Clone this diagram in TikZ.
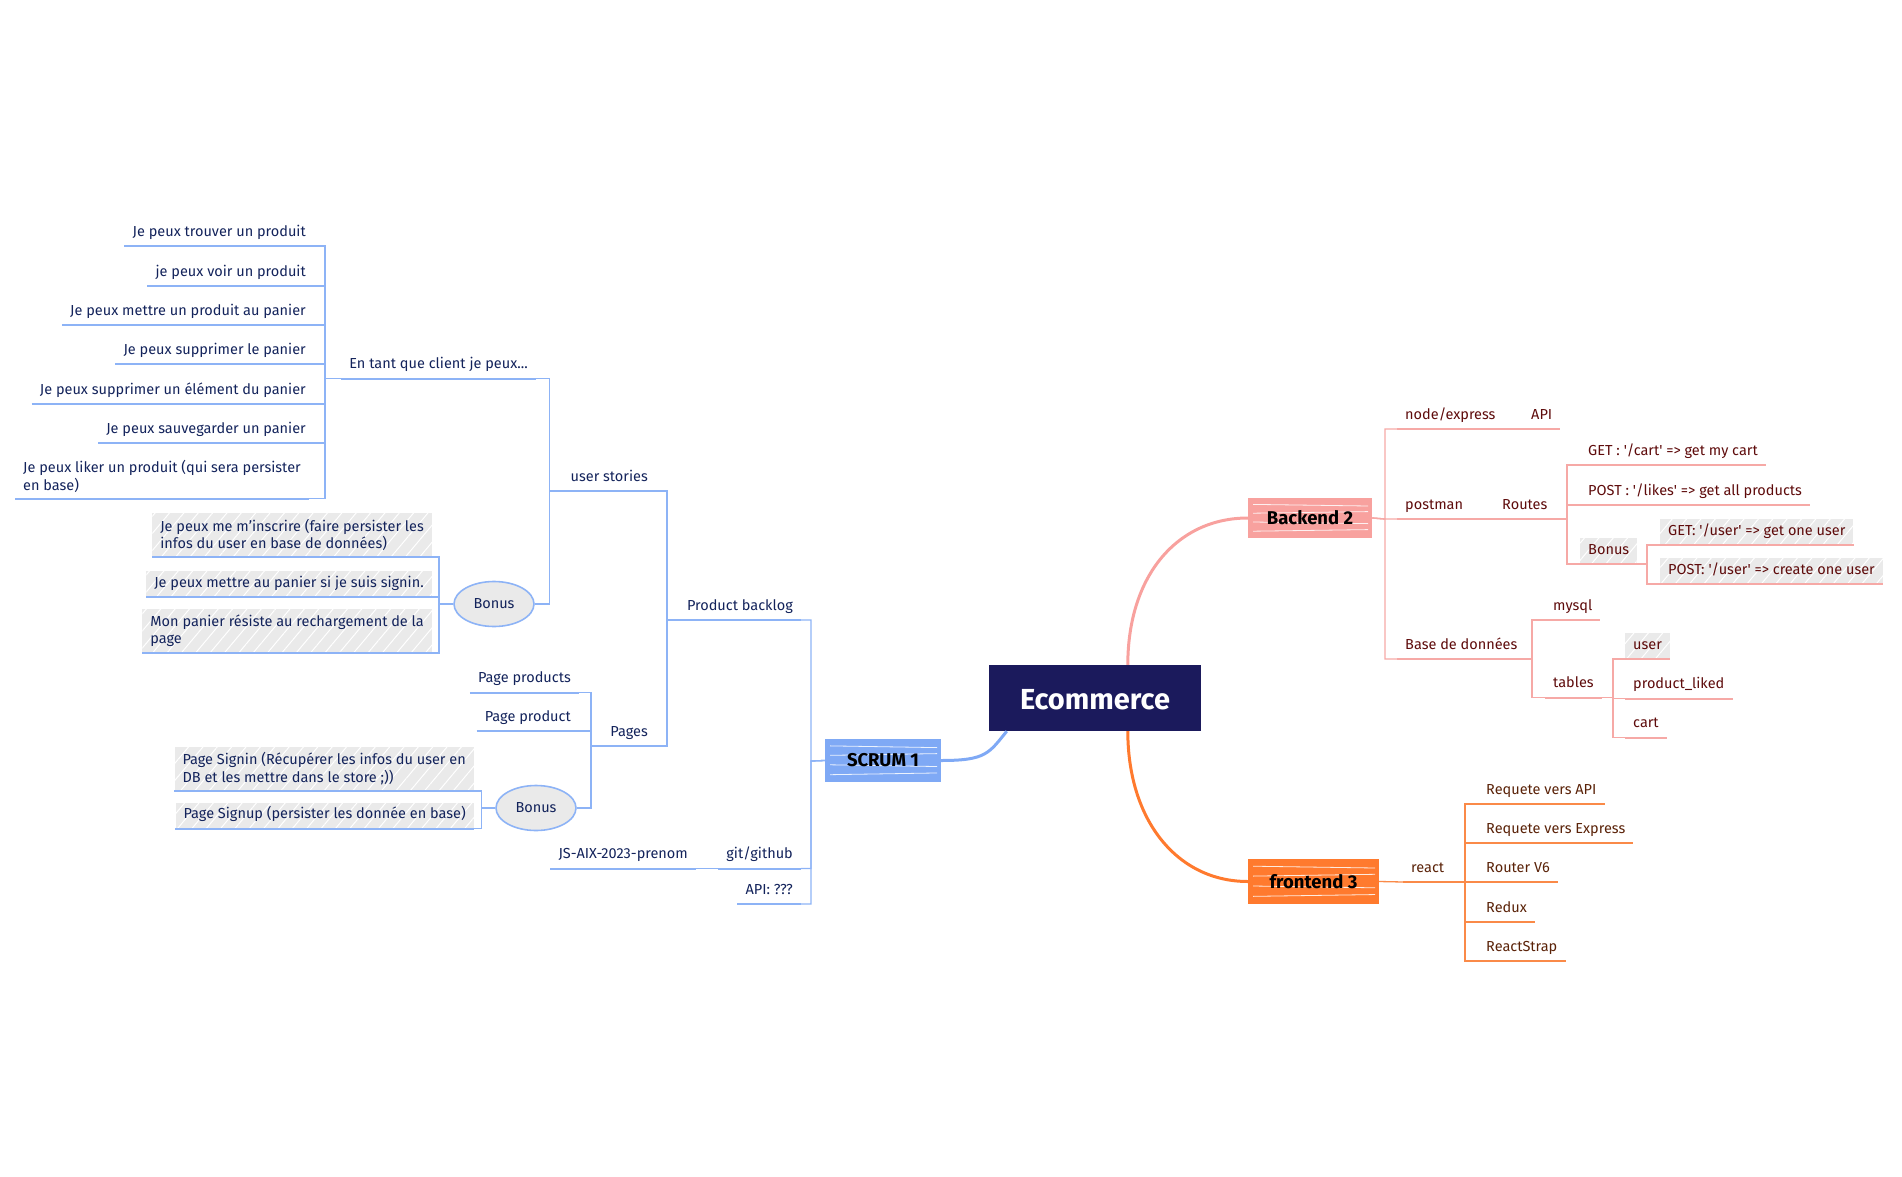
\documentclass[tikz,border=0pt]{standalone}
\usepackage{fontspec}
\setmainfont{Fira Sans}
\usetikzlibrary{calc,shapes.geometric,patterns.meta}

\definecolor{navy}{HTML}{1B1A5C}
\definecolor{bline}{HTML}{8DB3F6}
\definecolor{btext}{HTML}{13235B}
\definecolor{pline}{HTML}{F6A9A6}
\definecolor{ptext}{HTML}{5E0B0B}
\definecolor{oline}{HTML}{FA8A48}
\definecolor{otext}{HTML}{5A2208}
\definecolor{scrumc}{HTML}{7FA9F5}
\definecolor{backc}{HTML}{F8A19E}
\definecolor{frontc}{HTML}{FF7A2E}
\definecolor{hatch}{HTML}{EAEAEA}

\tikzset{
  topic/.style={inner xsep=8pt, inner ysep=6pt, text height=10pt, text depth=3.5pt,
    font=\fontsize{14.5}{17.5}\selectfont},
  multi/.style={text height={}, text depth={}, align=left},
  tb/.style={topic, text=btext},
  tp/.style={topic, text=ptext},
  to/.style={topic, text=otext},
  graybox/.style={fill=hatch, postaction={pattern={Lines[angle=50,distance=11pt,line width=1pt]}, pattern color=white}},
  bonusell/.style={ellipse, draw=bline, line width=1.6pt, fill=hatch, minimum width=80pt,
    minimum height=45pt, inner sep=0pt, text=btext, font=\fontsize{14.5}{17.5}\selectfont},
  bcon/.style={draw=bline, line width=1.3pt},
  pcon/.style={draw=pline, line width=1.3pt},
  ocon/.style={draw=oline, line width=1.3pt},
  bul/.style={draw=bline, line width=2pt},
  pul/.style={draw=pline, line width=2pt},
  oul/.style={draw=oline, line width=2pt},
  mainnode/.style={rectangle, inner sep=0pt, text=black, font=\bfseries\fontsize{18.5}{20}\selectfont},
  streaks/.style={path picture={
    \foreach \f/\g in {0.16/0.2, 0.38/0.34, 0.6/0.64, 0.83/0.79}{
      \draw[white, line width=0.8pt, opacity=0.85]
        ($(path picture bounding box.north west)!\f!(path picture bounding box.south west)+(5,0)$) --
        ($(path picture bounding box.north east)!\g!(path picture bounding box.south east)+(-4,0)$);
    }}},
  maincurve/.style={line width=3pt}
}

\begin{document}
\begin{tikzpicture}[x={(1pt,0)}, y={(0,-1pt)}]
\useasboundingbox (0,0) rectangle (1902,1177);

% ---- central topic and main branches
\node[mainnode, fill=navy, minimum width=212pt, minimum height=66pt, text=white,
  text height=22pt, text depth=0pt,
  font=\bfseries\fontsize{29}{31}\selectfont] (ecom) at (1095,698) {Ecommerce};
\node[mainnode, streaks, fill=scrumc, minimum width=116pt, minimum height=43pt] (scrum) at (883,760.5) {SCRUM 1};
\node[mainnode, streaks, fill=backc, minimum width=124pt, minimum height=40pt] (back) at (1310,518) {Backend 2};
\node[mainnode, streaks, fill=frontc, minimum width=131pt, minimum height=45pt] (front) at (1313.5,881.5) {frontend 3};

\draw[maincurve, scrumc] (scrum.east) .. controls +(45,0) and +(-18,22) .. ($(ecom.south west)+(18,0)$);
\draw[maincurve, backc] ($(ecom.north west)+(139,0)$) .. controls +(0,-90) and +(-70,0) .. (back.west);
\draw[maincurve, frontc] ($(ecom.south west)+(139,0)$) .. controls +(0,90) and +(-70,0) .. (front.west);

% ---- SCRUM 1 (blue, growing left)
\node[tb, anchor=south east] (pb) at (801,620) {Product backlog};
\node[tb, anchor=south east] (git) at (801,868.5) {git/github};
\node[tb, anchor=south east] (apiq) at (801,904) {API: ???};
\node[tb, anchor=south east] (js) at (696,868.5) {JS-AIX-2023-prenom};
\node[tb, anchor=south east] (us) at (656,491) {user stories};
\node[tb, anchor=south east] (pages) at (656,746) {Pages};
\node[tb, anchor=south east] (ent) at (536,378.5) {En tant que client je peux...};
\node[bonusell] (bu) at (494,604) {Bonus};
\node[tb, anchor=south east] (u1) at (314,246) {Je peux trouver un produit};
\node[tb, anchor=south east] (u2) at (314,286) {je peux voir un produit};
\node[tb, anchor=south east] (u3) at (314,325) {Je peux mettre un produit au panier};
\node[tb, anchor=south east] (u4) at (314,364) {Je peux supprimer le panier};
\node[tb, anchor=south east] (u5) at (314,404) {Je peux supprimer un élément du panier};
\node[tb, anchor=south east] (u6) at (314,443) {Je peux sauvegarder un panier};
\node[tb, multi, anchor=south west] (u7) at (15,498.5) {Je peux liker un produit (qui sera persister\\en base)};
\node[tb, multi, graybox, anchor=south east] (bu1) at (432,557) {Je peux me m'inscrire (faire persister les\\infos du user en base de données)};
\node[tb, graybox, anchor=south east] (bu2) at (432,597) {Je peux mettre au panier si je suis signin.};
\node[tb, multi, graybox, anchor=south east] (bu3) at (432,653) {Mon panier résiste au rechargement de la\\page};
\node[tb, anchor=south east] (pg1) at (579,692.5) {Page products};
\node[tb, anchor=south east] (pg2) at (579,731) {Page product};
\node[bonusell] (bp) at (536,808) {Bonus};
\node[tb, multi, graybox, anchor=south east] (bp1) at (474,791) {Page Signin (Récupérer les infos du user en\\DB et les mettre dans le store ;))};
\node[tb, graybox, anchor=south east] (bp2) at (474,828.5) {Page Signup (persister les donnée en base)};

\coordinate (kS) at (811,761);
\coordinate (kP) at (667,620);
\coordinate (kU) at (549.5,491);
\coordinate (kE) at (325,378.5);
\coordinate (kBU) at (439,604);
\coordinate (kPg) at (591,746);
\coordinate (kBP) at (481.5,808);

\foreach \n in {pb,git,apiq,js,us,pages,ent,u1,u2,u3,u4,u5,u6,u7,bu1,bu2,bu3,pg1,pg2,bp1,bp2}
  \draw[bul] (\n.south west) -- (\n.south east);

\foreach \n in {pb,git,apiq} \draw[bcon] (scrum.west) -- (kS) |- (\n.south east);
\draw[bcon] (git.south west) -- (js.south east);
\foreach \n in {us,pages} \draw[bcon] (pb.south west) -- (kP) |- (\n.south east);
\draw[bcon] (us.south west) -- (kU) |- (ent.south east);
\draw[bcon] (us.south west) -- (kU) |- (bu.east);
\foreach \n in {u1,u2,u3,u4,u5,u6,u7} \draw[bcon] (ent.south west) -- (kE) |- (\n.south east);
\foreach \n in {bu1,bu2,bu3} \draw[bcon] (bu.west) -- (kBU) |- (\n.south east);
\foreach \n in {pg1,pg2} \draw[bcon] (pages.south west) -- (kPg) |- (\n.south east);
\draw[bcon] (pages.south west) -- (kPg) |- (bp.east);
\foreach \n in {bp1,bp2} \draw[bcon] (bp.west) -- (kBP) |- (\n.south east);

% ---- Backend 2 (pink, growing right)
\node[tp, anchor=south west] (nx) at (1397,429) {node/express};
\node[tp, anchor=south west] (api) at (1523,429) {API};
\node[tp, anchor=south west] (pm) at (1397,519) {postman};
\node[tp, anchor=south west] (rt) at (1494,519) {Routes};
\node[tp, anchor=south west] (gc) at (1580,465) {GET : \textquotesingle/cart\textquotesingle{} => get my cart};
\node[tp, anchor=south west] (pl) at (1580,505) {POST : \textquotesingle/likes\textquotesingle{} => get all products};
\node[tp, graybox, anchor=south west] (bb) at (1580,564) {Bonus};
\node[tp, graybox, anchor=south west] (gu) at (1660,545) {GET: \textquotesingle/user\textquotesingle{} => get one user};
\node[tp, graybox, anchor=south west] (pu) at (1660,584) {POST: \textquotesingle/user\textquotesingle{} => create one user};
\node[tp, anchor=south west] (bdd) at (1397,659) {Base de données};
\node[tp, anchor=south west] (my) at (1545,620) {mysql};
\node[tp, anchor=south west] (tbl) at (1545,697.5) {tables};
\node[tp, graybox, anchor=south west] (tu) at (1625,659) {user};
\node[tp, anchor=south west] (tpl) at (1625,698.5) {product\_liked};
\node[tp, anchor=south west] (tc) at (1625,737.5) {cart};

\coordinate (kB) at (1385,519);
\coordinate (kR) at (1567,519);
\coordinate (kBo) at (1647,564);
\coordinate (kD) at (1532,659);
\coordinate (kT) at (1613,697.5);

\foreach \n in {nx,api,pm,rt,gc,pl,bb,gu,pu,bdd,my,tbl,tu,tpl,tc}
  \draw[pul] (\n.south west) -- (\n.south east);

\foreach \n in {nx,pm,bdd} \draw[pcon] (back.east) -- (kB) |- (\n.south west);
\draw[pcon] (nx.south east) -- (api.south west);
\draw[pcon] (pm.south east) -- (rt.south west);
\foreach \n in {gc,pl,bb} \draw[pcon] (rt.south east) -- (kR) |- (\n.south west);
\foreach \n in {gu,pu} \draw[pcon] (bb.south east) -- (kBo) |- (\n.south west);
\foreach \n in {my,tbl} \draw[pcon] (bdd.south east) -- (kD) |- (\n.south west);
\foreach \n in {tu,tpl,tc} \draw[pcon] (tbl.south east) -- (kT) |- (\n.south west);

% ---- frontend 3 (orange, growing right)
\node[to, anchor=south west] (re) at (1403,882) {react};
\node[to, anchor=south west] (f1) at (1478,804) {Requete vers API};
\node[to, anchor=south west] (f2) at (1478,843) {Requete vers Express};
\node[to, anchor=south west] (f3) at (1478,882) {Router V6};
\node[to, anchor=south west] (f4) at (1478,922) {Redux};
\node[to, anchor=south west] (f5) at (1478,961) {ReactStrap};

\coordinate (kF) at (1465,882);

\foreach \n in {re,f1,f2,f3,f4,f5}
  \draw[oul] (\n.south west) -- (\n.south east);
\draw[ocon] (front.east) -- (re.south west);
\foreach \n in {f1,f2,f3,f4,f5} \draw[ocon] (re.south east) -- (kF) |- (\n.south west);

\end{tikzpicture}
\end{document}
